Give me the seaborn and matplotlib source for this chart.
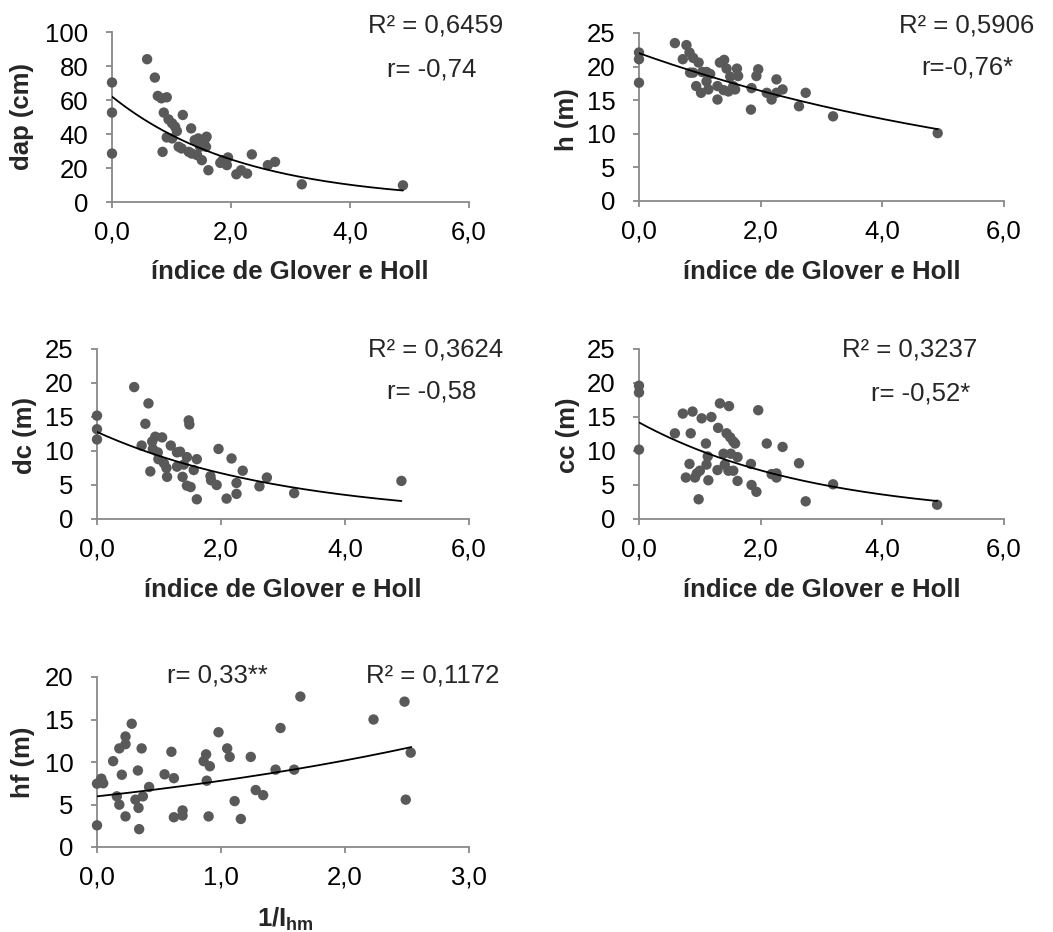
import numpy as np
import pandas as pd
import matplotlib
matplotlib.use("Agg")
import matplotlib.pyplot as plt
import seaborn as sns
from matplotlib.ticker import FuncFormatter

# ---------------- data ----------------
dap_x = [0, 0, 0, 0.59, 0.72, 0.77, 0.83, 0.92, 0.87, 0.85, 0.95, 1.01, 1.06, 1.09, 0.92,
         1.01, 1.19, 1.12, 1.17, 1.33, 1.29, 1.34, 1.39, 1.43, 1.45, 1.48, 1.51, 1.54, 1.57,
         1.59, 1.62, 1.58, 1.82, 1.86, 1.95, 1.93, 2.09, 2.17, 2.27, 2.35, 2.62, 2.74, 3.19, 4.89]
dap_y = [70.3, 52.6, 28.5, 84.0, 73.2, 62.4, 61.0, 61.6, 52.6, 29.5, 48.6, 46.3, 44.3, 41.7, 38.0,
         37.4, 51.2, 32.5, 31.5, 43.3, 29.5, 28.5, 36.4, 27.6, 37.4, 32.5, 24.6, 34.4, 37.4,
         38.4, 18.7, 32.5, 23.0, 24.6, 26.2, 21.7, 16.3, 18.7, 16.7, 28.0, 21.7, 23.6, 10.4, 9.8]

h_x = [0, 0, 0, 0.59, 0.78, 0.83, 0.72, 0.89, 0.98, 0.84, 0.89, 0.94, 1.02, 1.04, 1.11, 1.17,
       1.11, 1.14, 1.29, 1.29, 1.33, 1.40, 1.44, 1.39, 1.47, 1.50, 1.55, 1.61, 1.63, 1.58,
       1.85, 1.84, 1.93, 1.96, 2.10, 2.18, 2.26, 2.26, 2.36, 2.63, 2.74, 3.19, 4.91]
h_y = [22.1, 21.1, 17.6, 23.5, 23.2, 22.1, 21.1, 21.3, 20.6, 19.1, 19.1, 17.1, 16.1, 19.2, 19.2,
       18.9, 17.8, 16.6, 17.1, 15.1, 20.6, 21.0, 19.7, 16.5, 16.3, 18.5, 17.1, 19.7, 18.6, 16.6,
       16.8, 13.6, 18.6, 19.6, 16.1, 15.1, 18.1, 16.1, 16.6, 14.1, 16.1, 12.6, 10.1]

dc_x = [0, 0, 0, 0.60, 0.83, 0.78, 0.72, 0.86, 0.89, 0.94, 0.90, 0.98, 0.99, 1.05, 1.08, 1.12,
        1.13, 1.19, 1.29, 1.34, 1.29, 1.38, 1.40, 1.45, 1.48, 1.49, 1.45, 1.51, 1.56, 1.61,
        1.61, 1.83, 1.84, 1.93, 1.96, 2.09, 2.17, 2.25, 2.25, 2.35, 2.62, 2.74, 3.18, 4.91]
dc_y = [15.2, 13.2, 11.7, 19.4, 17.0, 14.0, 10.8, 7.0, 11.4, 12.1, 10.3, 9.8, 8.8, 12.0, 8.2, 7.5,
        6.2, 10.8, 9.8, 9.9, 7.7, 6.2, 8.0, 9.1, 14.5, 13.9, 4.9, 4.7, 7.2, 8.8,
        2.9, 6.3, 5.7, 5.0, 10.3, 3.0, 8.9, 5.3, 3.7, 7.1, 4.8, 6.1, 3.8, 5.6]

cc_x = [0, 0, 0, 0.59, 0.72, 0.88, 1.03, 1.19, 0.85, 0.83, 0.77, 0.92, 0.95, 1.00, 0.98, 1.10,
        1.11, 1.13, 1.14, 1.30, 1.33, 1.48, 1.29, 1.39, 1.44, 1.41, 1.47, 1.50, 1.55, 1.51,
        1.55, 1.58, 1.62, 1.62, 1.96, 1.84, 1.85, 1.93, 2.10, 2.18, 2.26, 2.26, 2.36, 2.63,
        2.74, 3.19, 4.90]
cc_y = [19.6, 18.6, 10.2, 12.6, 15.5, 15.8, 14.8, 15.0, 12.6, 8.1, 6.1, 6.1, 6.7, 7.1, 2.9, 11.1,
        8.0, 9.2, 5.7, 13.4, 17.0, 16.6, 7.2, 9.6, 12.6, 8.0, 7.1, 12.0, 11.4, 9.6,
        7.1, 11.1, 9.1, 5.6, 16.0, 8.1, 5.0, 4.0, 11.1, 6.6, 6.1, 6.7, 10.6, 8.2,
        2.6, 5.1, 2.1]

hf_x = [0, 0, 0.035, 0.05, 0.13, 0.16, 0.18, 0.18, 0.20, 0.23, 0.23, 0.23, 0.28, 0.31, 0.33,
        0.335, 0.34, 0.36, 0.37, 0.42, 0.545, 0.60, 0.62, 0.62, 0.69, 0.69, 0.86, 0.88, 0.885,
        0.91, 0.90, 0.98, 1.05, 1.07, 1.11, 1.16, 1.24, 1.28, 1.34, 1.44, 1.48, 1.59, 1.64,
        2.23, 2.48, 2.49, 2.53]
hf_y = [7.45, 2.55, 8.04, 7.5, 10.1, 5.96, 4.98, 11.6, 8.5, 13.0, 12.1, 3.6, 14.5, 5.57, 9.0,
        4.6, 2.1, 11.6, 5.96, 7.06, 8.55, 11.2, 8.1, 3.5, 4.3, 3.7, 10.1, 10.9, 7.8,
        9.5, 3.6, 13.5, 11.6, 10.6, 5.4, 3.3, 10.6, 6.7, 6.1, 9.1, 14.0, 9.1, 17.7,
        15.0, 17.1, 5.57, 11.1]

# exponential trend lines y = a*exp(b*x)
dap_fit = [62.0, -0.453]
h_fit = [22.0, -0.147]
dc_fit = [12.8, -0.321]
cc_fit = [14.2, -0.343]
hf_fit = [5.96, 0.268]
fit_xmax = [4.89, 4.91, 4.91, 4.90, 2.535]

y_labels = ["dap (cm)", "h (m)", "dc (m)", "cc (m)", "hf (m)"]
x_labels = ["índice de Glover e Holl"] * 4 + [r"$\mathbf{1/I}_{\mathbf{hm}}$"]
r2_texts = ["R² = 0,6459", "R² = 0,5906", "R² = 0,3624", "R² = 0,3237", "R² = 0,1172"]
r_texts = ["r= -0,74", "r=-0,76*", "r= -0,58", "r= -0,52*", "r= 0,33**"]
y_ticks = [[0, 20, 40, 60, 80, 100], [0, 5, 10, 15, 20, 25], [0, 5, 10, 15, 20, 25],
           [0, 5, 10, 15, 20, 25], [0, 5, 10, 15, 20]]
x_ticks = [[0, 2, 4, 6]] * 4 + [[0, 1, 2, 3]]

# ---------------- style ----------------
sns.set_theme(style="white")
plt.rcParams["font.family"] = ["Liberation Sans", "DejaVu Sans"]
plt.rcParams["mathtext.fontset"] = "custom"
plt.rcParams["mathtext.rm"] = "Liberation Sans"
plt.rcParams["mathtext.bf"] = "Liberation Sans:bold"
plt.rcParams["mathtext.it"] = "Liberation Sans:italic"

FS = 18.5
W, H = 1053, 932
fig = plt.figure(figsize=(W / 100, H / 100), dpi=100)

# axes boxes in pixels: left, top, right, bottom
boxes = [(112, 32, 469, 202), (639, 33, 1004, 201), (97, 349, 469, 519),
         (639, 349, 1004, 519), (97, 677, 469, 847)]

xs = [dap_x, h_x, dc_x, cc_x, hf_x]
ys = [dap_y, h_y, dc_y, cc_y, hf_y]
fits = [dap_fit, h_fit, dc_fit, cc_fit, hf_fit]

# text positions (pixels): ylabel center, xlabel center/baseline, R2, r (center x, baseline y)
ylab_pos = [(22, 117), (567, 120), (25, 435), (568, 435), (23, 762)]
xlab_pos = [(290, 279), (822, 279), (283, 597), (822, 597), (285, 927)]
r2_pos = [(436, 32), (967, 33), (436, 356), (910, 356), (433, 683)]
r_pos = [(432, 77), (967, 74), (432, 399), (921, 401), (217, 683)]

spine_c = "#898989"
pt_c = "#595959"

def fx(px):
    return px / W

def fy(py):
    return 1 - py / H

for i in range(5):
    l, t, r, b = boxes[i]
    ax = fig.add_axes([fx(l), fy(b), (r - l) / W, (b - t) / H])
    df = pd.DataFrame({"x": xs[i], "y": ys[i]})
    sns.scatterplot(data=df, x="x", y="y", ax=ax, color=pt_c, s=56, edgecolor="none",
                    linewidth=0, clip_on=False, zorder=3)
    a, k = fits[i]
    xf = np.linspace(0, fit_xmax[i], 200)
    dfl = pd.DataFrame({"x": xf, "y": a * np.exp(k * xf)})
    sns.lineplot(data=dfl, x="x", y="y", ax=ax, color="black", linewidth=1.3, zorder=4)

    ax.set_xlim(x_ticks[i][0], x_ticks[i][-1])
    ax.set_ylim(y_ticks[i][0], y_ticks[i][-1])
    ax.set_xticks(x_ticks[i])
    ax.set_yticks(y_ticks[i])
    ax.xaxis.set_major_formatter(FuncFormatter(lambda v, p: f"{v:.1f}".replace(".", ",")))
    ax.yaxis.set_major_formatter(FuncFormatter(lambda v, p: f"{int(v)}"))
    ax.set_xlabel("")
    ax.set_ylabel("")
    for s in ["top", "right"]:
        ax.spines[s].set_visible(False)
    for s in ["left", "bottom"]:
        ax.spines[s].set_color(spine_c)
        ax.spines[s].set_linewidth(1.3)
    ax.tick_params(axis="both", direction="out", length=4.5, width=1.3, color=spine_c,
                   labelsize=FS, labelcolor="black")
    ax.tick_params(axis="x", pad=9)
    ax.tick_params(axis="y", pad=12.5)
    ax.tick_params(bottom=True, left=True)

    fig.text(fx(ylab_pos[i][0]), fy(ylab_pos[i][1]), y_labels[i], rotation=90,
             ha="center", va="center", fontsize=FS, fontweight="bold")
    fig.text(fx(xlab_pos[i][0]), fy(xlab_pos[i][1]), x_labels[i],
             ha="center", va="baseline", fontsize=FS, fontweight="bold")
    fig.text(fx(r2_pos[i][0]), fy(r2_pos[i][1]), r2_texts[i],
             ha="center", va="baseline", fontsize=FS)
    fig.text(fx(r_pos[i][0]), fy(r_pos[i][1]), r_texts[i],
             ha="center", va="baseline", fontsize=FS)

fig.savefig("out.png", dpi=100, facecolor="white")
